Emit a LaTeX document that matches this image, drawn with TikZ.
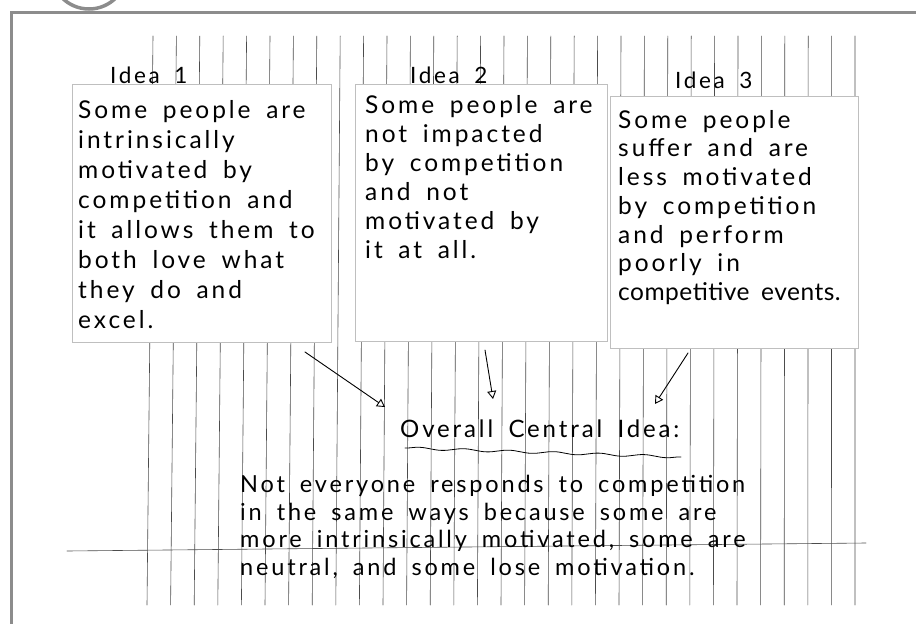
\documentclass[tikz,border=0pt]{standalone}
\usepackage{fontspec}
\newfontfamily\hand[LetterSpace=12,WordSpace=1.7]{Lato}
\usetikzlibrary{arrows.meta,positioning,decorations.pathmorphing}

\begin{document}
\begin{tikzpicture}[x=1pt, y=-1pt, line cap=round]
\tikzstyle{card} = [rectangle, draw = black!25, fill = white, anchor = north west, inner sep = 0pt]
\tikzstyle{txt} = [align = left, anchor = north west, inner sep = 0pt]
\tikzstyle{lbl} = [anchor = base west, inner sep = 0pt, font = \hand\fontsize{22.5}{26}\selectfont]
\tikzstyle{rule} = [black!70, line width = 0.6pt]
\tikzstyle{pen} = [black, line width = 0.9pt, -{Triangle[open, length=8pt, width=9pt]}]

\useasboundingbox (0,0) rectangle (916,624);
% frame of the scan
\draw [gray!90, line width = 3.5pt] (89,-29) circle (38);
\draw [gray!90, line width = 3pt] (916,12) -- (11,12) -- (11,624);

% lined paper
\foreach \i in {0,...,30}
  \draw [rule] ({153+23.4*\i}, 36) -- ({147+23.6*\i}, 605);
\draw [rule] (67,551) -- (866,543);

% the three ideas
\node (idea1) [card, minimum width = 259pt, minimum height = 258pt] at (72,84) {};
\node (idea2) [card, minimum width = 252pt, minimum height = 257pt] at (355,84) {};
\node (idea3) [card, minimum width = 248pt, minimum height = 252pt] at (610,96) {};
\node (lbl1) [lbl] at (110,83) {Idea 1};
\node (lbl2) [lbl] at (410,83) {Idea 2};
\node (lbl3) [lbl] at (675,88) {Idea 3};
\node (txt1) [txt, font = \hand\fontsize{24.5}{30}\selectfont, below right = 16pt and 6pt of idea1.north west]
  {Some people are\\intrinsically\\motivated by\\competition and\\it allows them to\\both love what\\they do and\\excel.};
\node (txt2) [txt, font = \hand\fontsize{24.5}{29}\selectfont, below right = 11pt and 10pt of idea2.north west]
  {Some people are\\not impacted\\by competition\\and not\\motivated by\\it at all.};
\node (txt3) [txt, font = \hand\fontsize{24.5}{28.7}\selectfont, below right = 14pt and 8pt of idea3.north west]
  {Some people\\suffer and are\\less motivated\\by competition\\and perform\\poorly in\\{\addfontfeature{LetterSpace=2}competitive events.}};

% central idea
\node (central) [lbl, font = \hand\fontsize{24}{28}\selectfont] at (400,437) {Overall Central Idea:};
\draw [black, line width = 0.8pt, decorate, decoration = {snake, amplitude = 1.2pt, segment length = 45pt}]
  (405,448) -- (681,457);
\node (summary) [txt, font = \hand\fontsize{23.5}{27.5}\selectfont] at (240,475)
  {Not everyone responds to competition\\in the same ways because some are\\more intrinsically motivated, some are\\neutral, and some lose motivation.};

\coordinate (tail1) at (305,352);
\coordinate (tail2) at (485,350);
\coordinate (tail3) at (688,353);
\coordinate (head1) at (385,407);
\coordinate (head2) at (493,399);
\coordinate (head3) at (655,404);
\draw [pen] (tail1) -- (head1);
\draw [pen] (tail2) -- (head2);
\draw [pen] (tail3) -- (head3);
\end{tikzpicture}
\end{document}
